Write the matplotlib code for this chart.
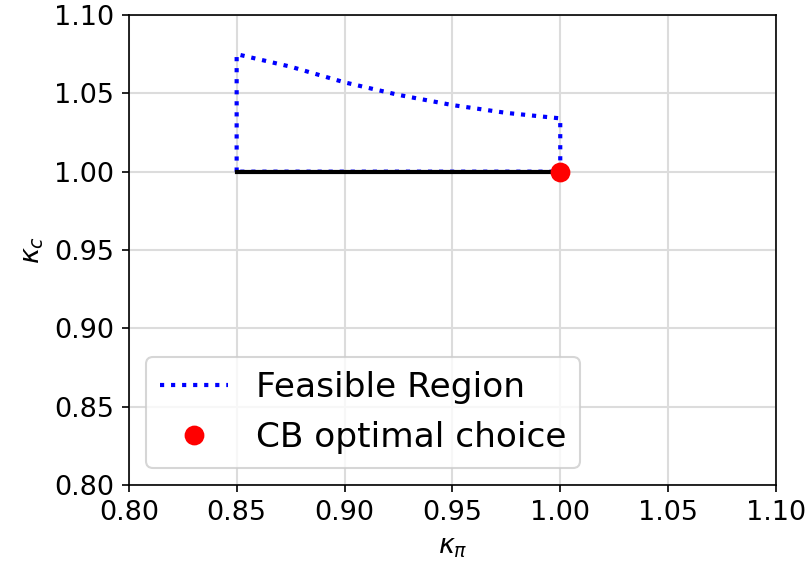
import matplotlib
matplotlib.use("Agg")
import matplotlib.pyplot as plt
import numpy as np

# Feasible region boundary (kappa_pi, kappa_c)
upper_kpi = [0.85, 0.875, 0.90, 0.925, 0.95, 0.975, 1.00]
upper_kc = [1.075, 1.067, 1.057, 1.049, 1.0425, 1.0375, 1.034]
lower_kc = 1.00
opt_kpi, opt_kc = [1.00], [1.00]

fig = plt.figure(figsize=(5.4, 3.84), dpi=150)
ax = fig.add_subplot(111)
fig.subplots_adjust(left=0.159, right=0.958, top=0.974, bottom=0.158)

bx = [upper_kpi[0]] + upper_kpi + [upper_kpi[-1], upper_kpi[0]]
by = [lower_kc] + upper_kc + [lower_kc, lower_kc]
ax.plot(bx, by, color='blue', linestyle=':', linewidth=2, label='Feasible Region')
ax.plot([upper_kpi[0], upper_kpi[-1]], [lower_kc, lower_kc], color='black', linewidth=2)
ax.plot(opt_kpi, opt_kc, 'o', color='red', markersize=8.5, linestyle='none', label='CB optimal choice')

ax.set_xlim(0.80, 1.10)
ax.set_ylim(0.80, 1.10)
ax.set_xticks(np.arange(0.80, 1.101, 0.05))
ax.set_yticks(np.arange(0.80, 1.101, 0.05))
ax.tick_params(labelsize=13)
ax.grid(True, color='#dcdcdc', linewidth=1)
ax.set_axisbelow(True)
ax.set_xlabel(r'$\kappa_{\pi}$', fontsize=13)
ax.set_ylabel(r'$\kappa_{c}$', fontsize=13)
ax.legend(loc='lower left', fontsize=16.5)

fig.savefig('out.png', dpi=150)
